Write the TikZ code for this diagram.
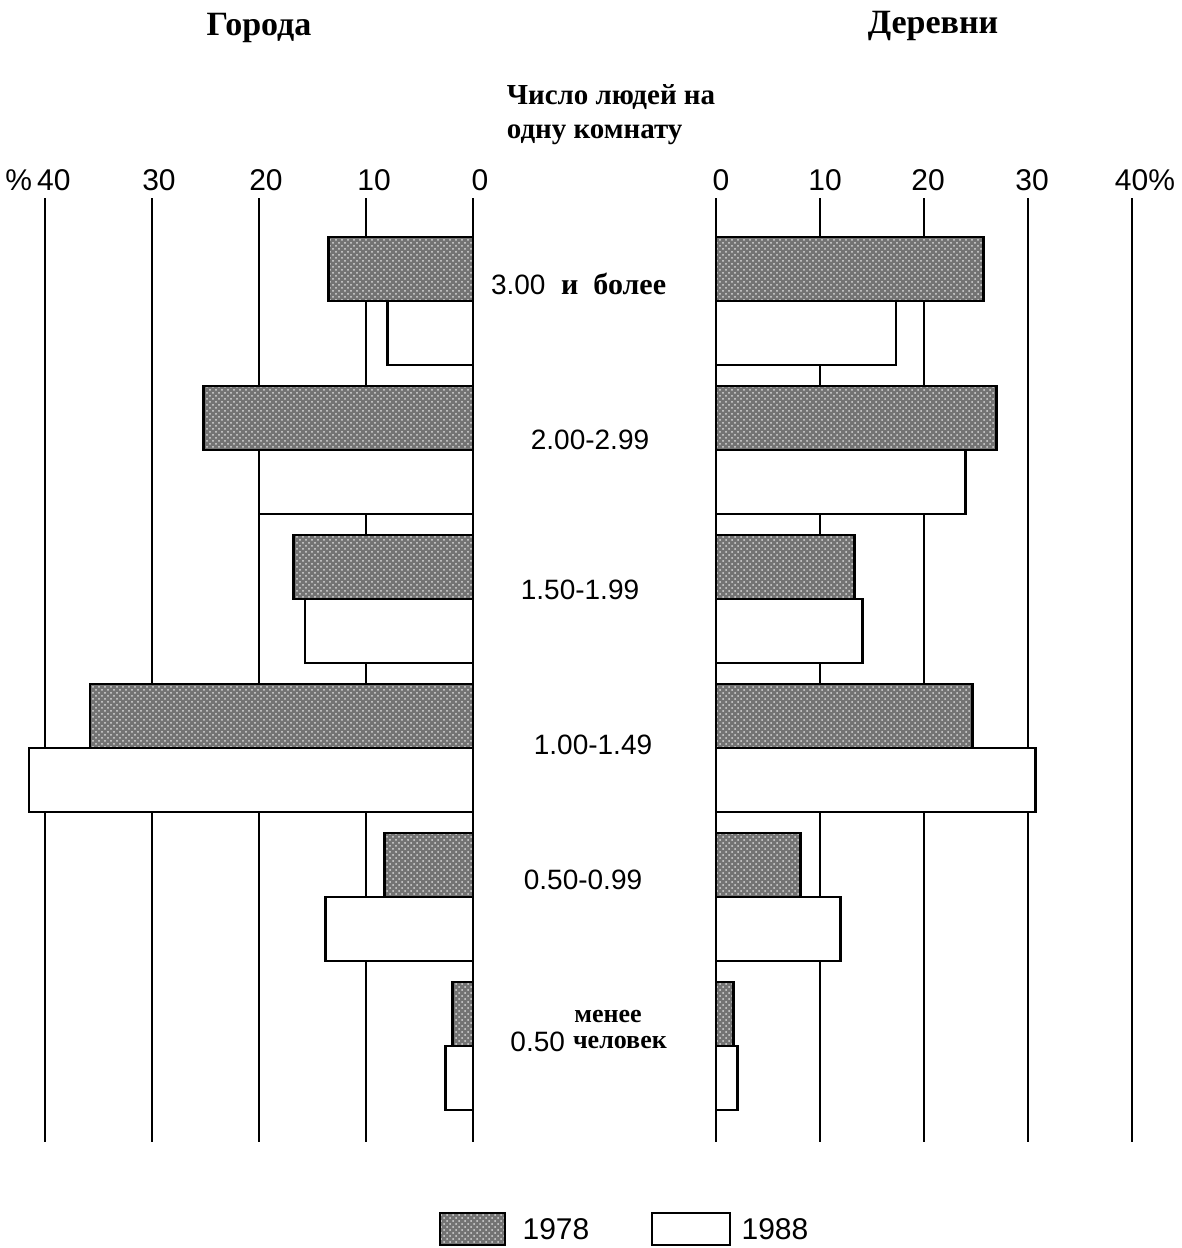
\documentclass[tikz,border=0pt]{standalone}
\usepackage{fontspec}
\setmainfont{Liberation Serif}
\setsansfont{Liberation Sans}
\usetikzlibrary{patterns}

\tikzset{
  bar78/.style={draw, line width=1.4pt, preaction={fill=black!55}, pattern=crosshatch dots, pattern color=white!85!black},
  bar88/.style={draw, line width=1.4pt, fill=white},
  gridline/.style={line width=1.1pt},
  ticklabel/.style={font=\sffamily\fontsize{15}{15}\selectfont},
  catlabel/.style={font=\sffamily\fontsize{14}{14}\selectfont},
  ruslabel/.style={font=\bfseries\fontsize{13}{14}\selectfont},
  titlelabel/.style={font=\bfseries\fontsize{17}{20}\selectfont}
}

\begin{document}
\begin{tikzpicture}[x=0.5pt,y=-0.5pt]

    \useasboundingbox (0,0) rectangle (1182,1248);

    % titles
    \node[titlelabel] (towns) at (259,28) {Города};
    \node[titlelabel] (villages) at (933,26) {Деревни};
    \node[ruslabel, font=\bfseries\fontsize{14.5}{17}\selectfont, align=left] (persons) at (611,115) {Число людей на\\одну комнату};

    % grid lines and scale
    \foreach \k in {0,1,2,3,4} {
        \draw[gridline] ({473-107*\k},198) -- ({473-107*\k},1142);
        \draw[gridline] ({716+104*\k},198) -- ({716+104*\k},1142);
    }
    \node[ticklabel] (l40) at (38,180) {\%\,40};
    \node[ticklabel] (l30) at (159,180) {30};
    \node[ticklabel] (l20) at (266,180) {20};
    \node[ticklabel] (l10) at (374,180) {10};
    \node[ticklabel] (l0) at (480,180) {0};
    \node[ticklabel] (r0) at (721,180) {0};
    \node[ticklabel] (r10) at (825,180) {10};
    \node[ticklabel] (r20) at (928,180) {20};
    \node[ticklabel] (r30) at (1032,180) {30};
    \node[ticklabel] (r40) at (1145,180) {40\%};

    % bars: group / towns 1978 / towns 1988 / villages 1978 / villages 1988
    \foreach \i/\la/\lb/\ra/\rb in {0/13.5/8/25.7/17.3, 1/25.2/20/27/24, 2/16.8/15.7/13.3/14.1,
                                   3/35.8/41.5/24.7/30.7, 4/8.3/13.8/8.1/12, 5/1.9/2.6/1.7/2.1} {
        \pgfmathsetmacro\yt{237+149*\i}
        \draw[bar78] ({473-10.7*\la},\yt) rectangle (473,{\yt+64});
        \draw[bar88] ({473-10.7*\lb},{\yt+64}) rectangle (473,{\yt+128});
        \draw[bar78] (716,\yt) rectangle ({716+10.4*\ra},{\yt+64});
        \draw[bar88] (716,{\yt+64}) rectangle ({716+10.4*\rb},{\yt+128});
    }

    % category labels
    \node[catlabel, anchor=west] (c300) at (484,284) {3.00\ \ {\rmfamily\bfseries\fontsize{15}{15}\selectfont и\ \ более}};
    \node[catlabel] (c200) at (590,440) {2.00-2.99};
    \node[catlabel] (c150) at (580,590) {1.50-1.99};
    \node[catlabel] (c100) at (593,745) {1.00-1.49};
    \node[catlabel] (c050) at (583,880) {0.50-0.99};
    \node[ruslabel] (less) at (608,1016) {менее};
    \node[catlabel, anchor=east] (c000) at (572,1042) {0.50};
    \node[ruslabel, anchor=west] (people) at (566,1042) {человек};

    % legend
    \draw[bar78] (440,1213) rectangle (505,1245);
    \node[ticklabel] (y78) at (556,1229) {1978};
    \draw[bar88] (652,1213) rectangle (730,1245);
    \node[ticklabel] (y88) at (775,1229) {1988};

\end{tikzpicture}
\end{document}
